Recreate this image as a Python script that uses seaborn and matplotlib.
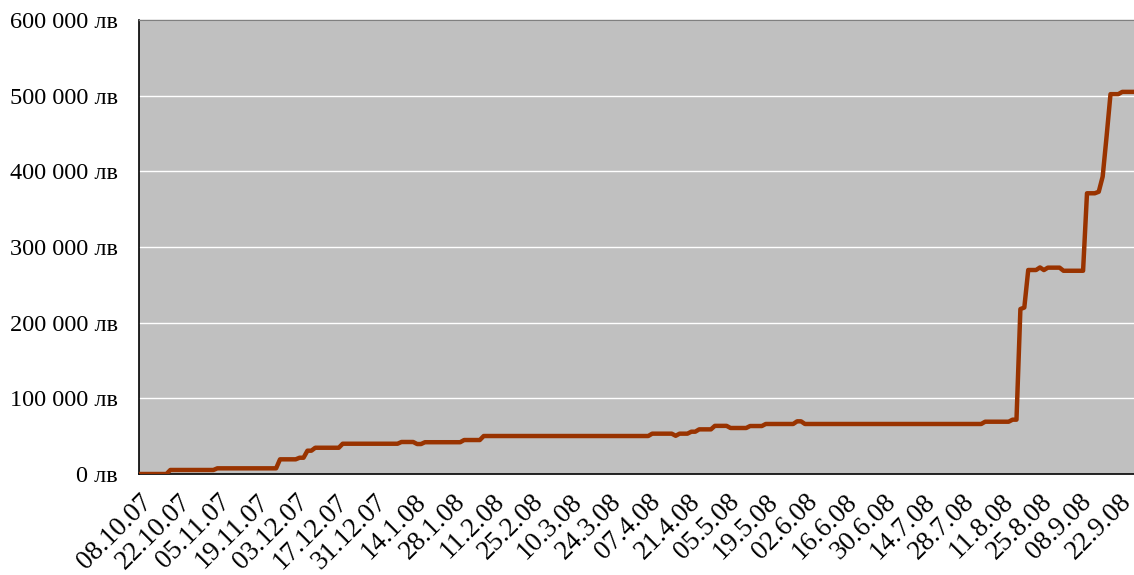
import numpy as np
import pandas as pd
import matplotlib
matplotlib.use("Agg")
import matplotlib.pyplot as plt
import seaborn as sns

# Balance by trading day (08.10.07 - 26.09.08), read off the chart as steps:
# the balance changes on the day index in step_starts and stays there
n_days = 255
step_starts = [0, 8, 20, 36, 41, 43, 45, 52, 67, 71, 73, 83, 88, 131, 137, 138,
               141, 143, 147, 151, 156, 160, 168, 170, 216, 223, 225, 226, 227,
               230, 231, 232, 236, 242, 245, 246, 247, 248, 251]
step_values = [0, 5300, 7500, 19400, 21500, 30800, 34700, 40000, 42300, 39600,
               42000, 44900, 50200, 53300, 50500, 53300, 55900, 59000, 63600,
               60800, 63400, 66100, 69600, 66100, 69100, 71800, 218000, 220000,
               269600, 273000, 269500, 272700, 268600, 371000, 373000, 393000,
               446000, 502000, 505000]

tick_labels = ["08.10.07", "22.10.07", "05.11.07", "19.11.07", "03.12.07",
               "17.12.07", "31.12.07", "14.1.08", "28.1.08", "11.2.08",
               "25.2.08", "10.3.08", "24.3.08", "07.4.08", "21.4.08", "05.5.08",
               "19.5.08", "02.6.08", "16.6.08", "30.6.08", "14.7.08", "28.7.08",
               "11.8.08", "25.8.08", "08.9.08", "22.9.08"]
y_ticks = [0, 100000, 200000, 300000, 400000, 500000, 600000]

# build the daily series from the steps
runs = np.diff(step_starts + [n_days])
df = pd.DataFrame({"day": np.arange(n_days),
                   "balance": np.repeat(step_values, runs)})

sns.set_style("white", {"axes.facecolor": "#C0C0C0"})
plt.rcParams["font.family"] = ["Liberation Serif", "DejaVu Serif"]

fig = plt.figure(figsize=(11.34, 5.75), dpi=100)
ax = fig.add_axes([139 / 1134, 1 - 474 / 575, 1 - 139 / 1134, (474 - 20) / 575])

sns.lineplot(data=df, x="day", y="balance", color="#993300", linewidth=3.2,
             ax=ax, zorder=3)

ax.set_xlim(0, n_days - 1)
ax.set_ylim(0, 600000)
ax.set_yticks(y_ticks)
ax.set_yticklabels([f"{v:,.0f} лв".replace(",", " ") for v in y_ticks])
ax.set_xticks(np.arange(0, 10 * len(tick_labels), 10))
ax.set_xticklabels(tick_labels, rotation=45, ha="right", va="top",
                   rotation_mode="anchor")
ax.set_xlabel("")
ax.set_ylabel("")

ax.grid(axis="y", color="white", linewidth=1)
ax.grid(axis="x", visible=False)
ax.set_axisbelow(True)

ax.tick_params(axis="both", colors="black", direction="out", length=6, width=1)
ax.tick_params(axis="y", labelsize=17.5, pad=9)
ax.tick_params(axis="x", labelsize=19.5, pad=5)

for side in ["left", "bottom"]:
    ax.spines[side].set_color("black")
    ax.spines[side].set_linewidth(1.2)
ax.spines["top"].set_color("#808080")
ax.spines["top"].set_linewidth(1)
ax.spines["right"].set_visible(False)

fig.savefig("out.png", dpi=100)
